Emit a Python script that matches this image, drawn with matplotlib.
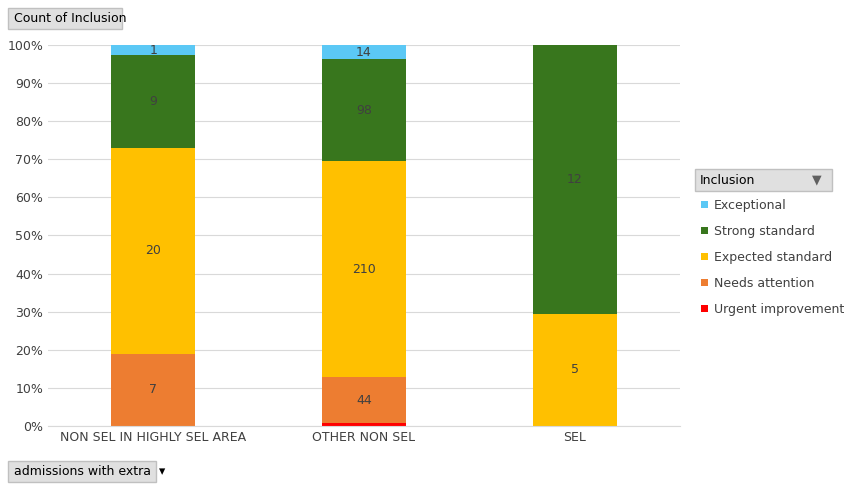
import matplotlib.pyplot as plt
import numpy as np
from matplotlib.patches import Rectangle

categories = ["NON SEL IN HIGHLY SEL AREA", "OTHER NON SEL", "SEL"]
urgent = [0, 3, 0]
needs = [7, 44, 0]
expected = [20, 210, 5]
strong = [9, 98, 12]
exceptional = [1, 14, 0]

series = [
    ("Urgent improvement", urgent, "#ff0000"),
    ("Needs attention", needs, "#ed7d31"),
    ("Expected standard", expected, "#ffc000"),
    ("Strong standard", strong, "#38761d"),
    ("Exceptional", exceptional, "#5bc8f5"),
]

fig = plt.figure(figsize=(8.44, 4.90), dpi=100)
ax = fig.add_axes([48/844, 1 - 426/490, (680-48)/844, (426-45)/490])

totals = np.sum([s[1] for s in series], axis=0)
x = np.arange(len(categories))
bottom = np.zeros(len(categories))
for name, vals, col in series:
    frac = np.array(vals) / totals
    ax.bar(x, frac, 0.4, bottom=bottom, color=col, label=name)
    for i, v in enumerate(vals):
        if v > 0 and name != "Urgent improvement":
            ax.text(x[i], bottom[i] + frac[i] / 2, str(v), ha="center", va="center",
                    fontsize=9, color="#404040")
    bottom += frac

ax.set_xlim(-0.5, 2.5)
ax.set_ylim(0, 1)
ax.set_yticks(np.arange(0, 1.01, 0.1))
ax.set_yticklabels([f"{int(round(t*100))}%" for t in np.arange(0, 1.01, 0.1)], fontsize=9, color="#404040")
ax.set_xticks(x)
ax.set_xticklabels(categories, fontsize=9, color="#404040")
ax.grid(axis="y", color="#d9d9d9", linewidth=0.8)
ax.set_axisbelow(True)
for s in ["top", "right", "left"]:
    ax.spines[s].set_visible(False)
ax.spines["bottom"].set_color("#d9d9d9")
ax.tick_params(length=0)

# field buttons
fig.patches.append(Rectangle((8/844, 1 - 29/490), 114/844, 21/490, transform=fig.transFigure,
                             facecolor="#e0e0e0", edgecolor="#c0c0c0"))
fig.text(14/844, 1 - 18/490, "Count of Inclusion", fontsize=9, va="center")
fig.patches.append(Rectangle((8/844, 1 - 482/490), 148/844, 21/490, transform=fig.transFigure,
                             facecolor="#e0e0e0", edgecolor="#c0c0c0"))
fig.text(14/844, 1 - 471/490, "admissions with extra  \u25be", fontsize=9, va="center")

# legend
fig.patches.append(Rectangle((695/844, 1 - 191/490), 137/844, 22/490, transform=fig.transFigure,
                             facecolor="#e0e0e0", edgecolor="#c0c0c0"))
fig.text(700/844, 1 - 180/490, "Inclusion", fontsize=9, va="center")
fig.text(812/844, 1 - 180/490, "\u25bc", fontsize=9, va="center", color="#606060")
for k, (name, vals, col) in enumerate(reversed(series)):
    yy = 1 - (205 + k * 26) / 490
    fig.patches.append(Rectangle((701/844, yy - 3/490), 7/844, 7/490, transform=fig.transFigure,
                                 facecolor=col, edgecolor="none"))
    fig.text(714/844, yy, name, fontsize=9, va="center", color="#404040")

fig.savefig("out.png", dpi=100)
